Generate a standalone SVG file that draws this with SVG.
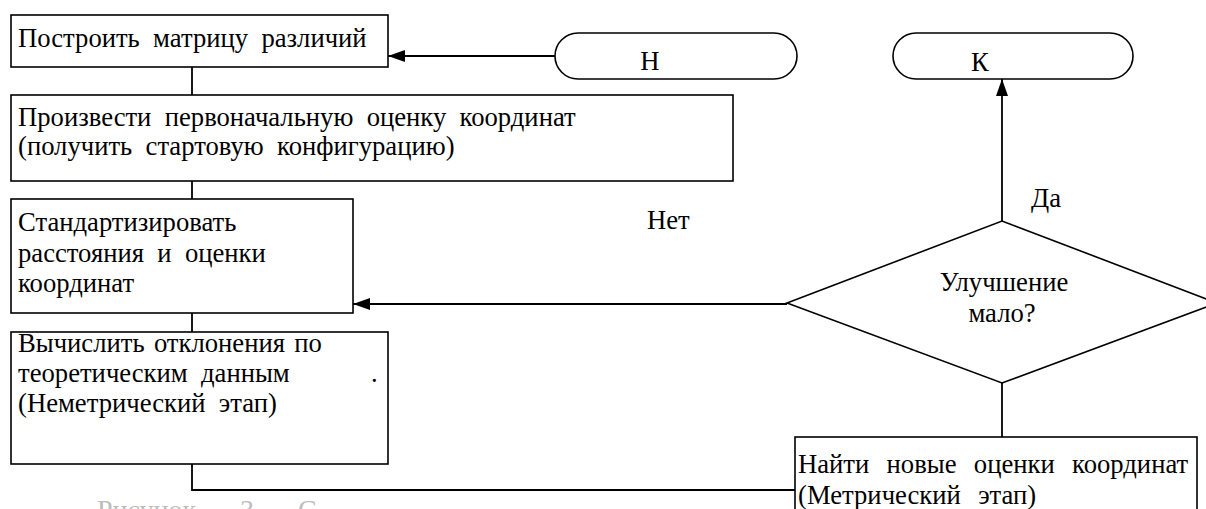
<svg xmlns="http://www.w3.org/2000/svg" width="1206" height="509" viewBox="0 0 1206 509" font-family="Liberation Serif, Times New Roman, serif">
<style>
.box{fill:#fff;stroke:#000;stroke-width:1.6}
.t{font-size:26.67px;fill:#000}
.m{text-anchor:middle}
.c{fill:none;stroke:#000;stroke-width:1.8}
.cap{font-size:28px;fill:#bdbdbd}
</style>
<defs>
<marker id="arr" viewBox="0 0 17 12" refX="17" refY="6" markerWidth="17" markerHeight="12" markerUnits="userSpaceOnUse" orient="auto">
<path d="M0,0 L17,6 L0,12 z" fill="#000"/>
</marker>
</defs>
<rect width="1206" height="509" fill="#fff"/>
<g id="connectors">
<line class="c" x1="555" y1="56" x2="388" y2="56" marker-end="url(#arr)"/>
<line class="c" x1="192" y1="67" x2="192" y2="95"/>
<line class="c" x1="192" y1="181" x2="192" y2="199"/>
<line class="c" x1="192" y1="313" x2="192" y2="332"/>
<polyline class="c" points="192,464 192,490 795,490"/>
<line class="c" x1="1002" y1="437" x2="1002" y2="383"/>
<line class="c" x1="787" y1="304" x2="353" y2="304" marker-end="url(#arr)"/>
<line class="c" x1="1002" y1="221" x2="1002" y2="79" marker-end="url(#arr)"/>
<text class="t" x="647" y="229">Нет</text>
<text class="t" x="1031" y="207">Да</text>
</g>
<g id="start">
<rect class="box" x="555" y="33" width="242" height="46" rx="23" ry="23"/>
<text class="t m" x="650" y="70">Н</text>
</g>
<g id="end">
<rect class="box" x="893" y="33" width="240" height="46" rx="23" ry="23"/>
<text class="t m" x="980" y="71">К</text>
</g>
<g id="box1">
<rect class="box" x="11" y="15" width="377" height="52"/>
<text class="t" x="18" y="47" xml:space="preserve">Построить  матрицу  различий</text>
</g>
<g id="box2">
<rect class="box" x="11" y="95" width="722" height="86"/>
<text class="t" x="18" y="126" xml:space="preserve">Произвести  первоначальную  оценку  координат</text>
<text class="t" x="18" y="155" xml:space="preserve">(получить  стартовую  конфигурацию)</text>
</g>
<g id="box3">
<rect class="box" x="11" y="199" width="342" height="114"/>
<text class="t" x="18" y="231">Стандартизировать</text>
<text class="t" x="18" y="262" xml:space="preserve">расстояния  и  оценки</text>
<text class="t" x="18" y="292">координат</text>
</g>
<g id="box4">
<rect class="box" x="11" y="332" width="377" height="132"/>
<text class="t" x="18" y="352" xml:space="preserve" word-spacing="-2">Вычислить  отклонения  по</text>
<text class="t" x="18" y="382" xml:space="preserve">теоретическим  данным</text>
<text class="t" x="371" y="382">.</text>
<text class="t" x="18" y="412" xml:space="preserve">(Неметрический  этап)</text>
</g>
<g id="decision">
<polygon class="box" points="787,303 1002,221 1217,303 1002,383"/>
<text class="t m" x="1004" y="291">Улучшение</text>
<text class="t m" x="1002" y="322">мало?</text>
</g>
<g id="box5">
<rect class="box" x="795" y="437" width="402" height="90"/>
<text class="t" x="798" y="473" xml:space="preserve" word-spacing="2">Найти  новые  оценки  координат</text>
<text class="t" x="798" y="504" xml:space="preserve" word-spacing="2">(Метрический  этап)</text>
</g>
<text class="cap" y="519"><tspan x="97">Рисунок</tspan><tspan x="240">3</tspan><tspan x="263">–</tspan><tspan x="298">С</tspan></text>
</svg>
